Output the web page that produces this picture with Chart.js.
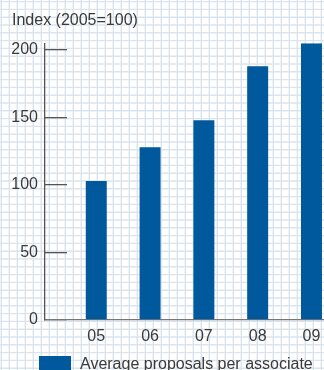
<!DOCTYPE html>
<html>
<head>
<meta charset="utf-8">
<script src="https://cdn.jsdelivr.net/npm/chart.js@4"></script>
<style>
  html, body { margin: 0; padding: 0; background: #fff; overflow: hidden; }
  #wrap { width: 324px; height: 370px; }
</style>
</head>
<body>
<div id="wrap"><canvas id="c" width="324" height="370"></canvas></div>
<script>
// Data
const years = ['05', '06', '07', '08', '09'];
const proposalsIndex = [103, 128, 148, 188, 205];
const yTickValues = [0, 50, 100, 150, 200];
const seriesLabel = 'Average proposals per associate';
const axisTitle = 'Index (2005=100)';

const FONT = "'Liberation Sans', Arial, Helvetica, sans-serif";
const FONT_SIZE = 16;
const INK = '#3a3a3a';
const AXIS = '#555555';
const BLUE = '#00599d';

// Light-blue graph-paper backdrop behind the whole chart
const graphPaper = {
  id: 'graphPaper',
  beforeDraw(chart) {
    const { ctx, width, height } = chart;
    ctx.save();
    ctx.fillStyle = '#ffffff';
    ctx.fillRect(0, 0, width, height);
    ctx.strokeStyle = '#d9e4ee';
    ctx.lineWidth = 1.4;
    ctx.beginPath();
    for (let x = 1.3; x < width; x += 8) { ctx.moveTo(x, 0); ctx.lineTo(x, height); }
    for (let y = 1.6; y < height; y += 7.8) { ctx.moveTo(0, y); ctx.lineTo(width, y); }
    ctx.stroke();
    ctx.restore();
  }
};

// Single-entry legend: wide swatch followed by the series name
const swatchLegend = {
  id: 'swatchLegend',
  afterDraw(chart) {
    const ds = chart.data.datasets[0];
    const { ctx, chartArea } = chart;
    const top = chartArea.bottom + 36;
    ctx.save();
    ctx.fillStyle = ds.backgroundColor;
    ctx.fillRect(39, top, 32, 16);
    ctx.fillStyle = INK;
    ctx.font = FONT_SIZE + 'px ' + FONT;
    ctx.textBaseline = 'alphabetic';
    ctx.fillText(ds.label, 80, top + 12.5);
    ctx.restore();
  }
};

new Chart(document.getElementById('c'), {
  type: 'bar',
  data: {
    datasets: [{
      label: seriesLabel,
      data: years.map((yr, i) => ({ x: i + 1, y: proposalsIndex[i] })),
      backgroundColor: BLUE,
      borderWidth: 0,
      categoryPercentage: 1,
      barPercentage: 0.39
    }]
  },
  options: {
    responsive: false,
    animation: false,
    devicePixelRatio: 1,
    layout: { padding: { left: 12, right: 0, top: 0, bottom: 0 } },
    plugins: {
      legend: { display: false },
      tooltip: { enabled: false },
      title: {
        display: true,
        text: axisTitle,
        align: 'start',
        color: INK,
        font: { family: FONT, size: FONT_SIZE, weight: 'normal' },
        padding: { top: 11, bottom: 13 }
      }
    },
    scales: {
      x: {
        type: 'linear',
        min: 0.047,
        max: 5.233,
        offset: false,
        grid: { display: false },
        border: { display: true, color: '#777777', width: 1.3 },
        afterBuildTicks(scale) {
          scale.ticks = years.map((yr, i) => ({ value: i + 1 }));
        },
        afterFit(scale) { scale.height = 50; },
        ticks: {
          autoSkip: false,
          maxRotation: 0,
          padding: -1,
          color: INK,
          font: { family: FONT, size: FONT_SIZE },
          callback: (v) => years[Math.round(v) - 1]
        }
      },
      y: {
        min: 0,
        max: 205,
        afterBuildTicks(scale) {
          scale.ticks = yTickValues.map(v => ({ value: v }));
        },
        afterFit(scale) { scale.width = 33; },
        grid: {
          display: true,
          drawOnChartArea: false,
          drawTicks: true,
          tickLength: -22,
          color: AXIS,
          lineWidth: 1.3
        },
        border: { display: true, color: AXIS, width: 1.3 },
        ticks: {
          padding: 29,
          color: INK,
          font: { family: FONT, size: FONT_SIZE }
        }
      }
    }
  },
  plugins: [graphPaper, swatchLegend]
});
</script>
</body>
</html>
